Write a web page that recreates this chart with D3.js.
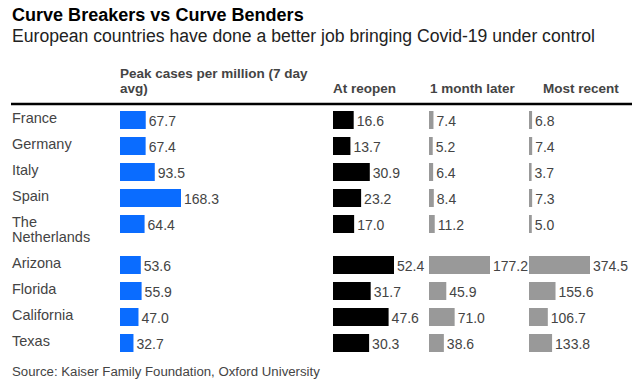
<!DOCTYPE html>
<html>
<head>
<meta charset="utf-8">
<script src="https://cdn.jsdelivr.net/npm/d3@7/dist/d3.min.js"></script>
<style>
  html, body { margin: 0; padding: 0; background: #fff; }
  svg { display: block; font-family: "Liberation Sans", Arial, sans-serif; }
</style>
</head>
<body>
<svg id="chart" width="640" height="383"></svg>
<script>
// ---- data ----
const regions = ["France", "Germany", "Italy", "Spain", "The Netherlands", "Arizona", "Florida", "California", "Texas"];
const peakCases = [67.7, 67.4, 93.5, 168.3, 64.4, 53.6, 55.9, 47.0, 32.7];
const atReopen = [16.6, 13.7, 30.9, 23.2, 17.0, 52.4, 31.7, 47.6, 30.3];
const monthLater = [7.4, 5.2, 6.4, 8.4, 11.2, 177.2, 45.9, 71.0, 38.6];
const mostRecent = [6.8, 7.4, 3.7, 7.3, 5.0, 374.5, 155.6, 106.7, 133.8];
const columnHeaders = ["Peak cases per million (7 day avg)", "At reopen", "1 month later", "Most recent"];

const title = "Curve Breakers vs Curve Benders";
const subtitle = "European countries have done a better job bringing Covid-19 under control";
const source = "Source: Kaiser Family Foundation, Oxford University";

// ---- layout ----
const svg = d3.select("#chart");
const columns = [
  { values: peakCases, x: 120, headerX: 120, color: "#0a6cff" },
  { values: atReopen, x: 333, headerX: 333, color: "#000000" },
  { values: monthLater, x: 429, headerX: 430, color: "#999999" },
  { values: mostRecent, x: 529, headerX: 543, color: "#999999" }
];
const barMax = 61, barMin = 2, barH = 18, rowStep = 26, lineH = 15;

function fitWidth(sel, target) {
  const size = parseFloat(sel.attr("font-size"));
  const w = sel.node().getComputedTextLength();
  sel.attr("font-size", (size * target / w).toFixed(2));
}

// titles
const t = svg.append("text").attr("x", 12).attr("y", 21).attr("font-size", 18)
  .attr("font-weight", "bold").attr("fill", "#000").text(title);
fitWidth(t, 292);
const st = svg.append("text").attr("x", 12).attr("y", 42).attr("font-size", 16)
  .attr("fill", "#222").text(subtitle);
fitWidth(st, 583);

// wrap helper
function wrapLines(text, maxW, size, weight) {
  const tmp = svg.append("text").attr("font-size", size).attr("font-weight", weight);
  const words = text.split(" ");
  const lines = [];
  let cur = "";
  words.forEach(w => {
    const trial = cur ? cur + " " + w : w;
    tmp.text(trial);
    if (tmp.node().getComputedTextLength() > maxW && cur) { lines.push(cur); cur = w; }
    else cur = trial;
  });
  lines.push(cur);
  tmp.remove();
  return lines;
}

// column headers (bottom aligned)
const headerSize = 13.5;
columns.forEach((c, i) => {
  const lines = wrapLines(columnHeaders[i], 200, headerSize, "bold");
  const txt = svg.append("text").attr("font-size", headerSize).attr("font-weight", "bold").attr("fill", "#444");
  lines.forEach((l, k) => {
    txt.append("tspan").attr("x", c.headerX)
      .attr("y", 93 - (lines.length - 1 - k) * lineH).text(l);
  });
});

// header rule
svg.append("line").attr("x1", 11).attr("x2", 632).attr("y1", 104).attr("y2", 104)
  .attr("stroke", "#000").attr("stroke-width", 2.5);

// rows
const rowLines = regions.map(r => wrapLines(r, 96, 14.5, "normal"));
const rowTops = [];
let yCur = 111;
rowLines.forEach(lines => { rowTops.push(yCur); yCur += rowStep + (lines.length - 1) * lineH; });

rowLines.forEach((lines, i) => {
  const txt = svg.append("text").attr("font-size", 14.5).attr("fill", "#444");
  lines.forEach((l, k) => {
    txt.append("tspan").attr("x", 12).attr("y", rowTops[i] + 12 + k * lineH).text(l);
  });
});

columns.forEach(c => {
  const xs = d3.scaleLinear().domain([0, d3.max(c.values)]).range([barMin, barMax]);
  const g = svg.append("g");
  g.selectAll("rect").data(c.values).join("rect")
    .attr("x", c.x).attr("y", (d, i) => rowTops[i])
    .attr("width", d => xs(d)).attr("height", barH)
    .attr("fill", c.color);
  g.selectAll("text").data(c.values).join("text")
    .attr("x", d => c.x + xs(d) + 3).attr("y", (d, i) => rowTops[i] + 14.5)
    .attr("font-size", 14).attr("fill", "#444")
    .text(d => d.toFixed(1));
});

// source
const src = svg.append("text").attr("x", 12).attr("y", 375.5).attr("font-size", 13)
  .attr("fill", "#444").text(source);
fitWidth(src, 308);
</script>
</body>
</html>
